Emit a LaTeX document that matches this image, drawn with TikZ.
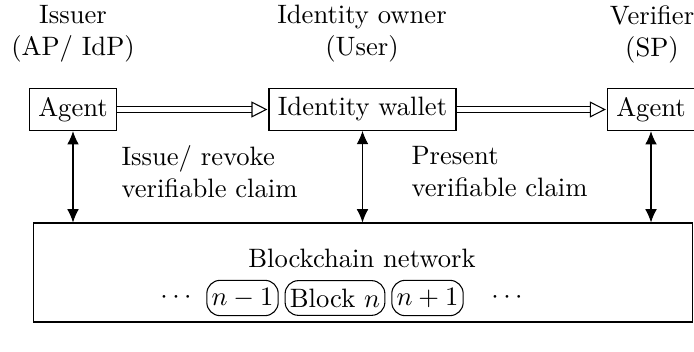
\documentclass[tikz,border=0pt]{standalone}
\usetikzlibrary{arrows.meta,positioning}
\begin{document}
\begin{tikzpicture}[x=0.3759pt,y=-0.3759pt,
  box/.style={draw, rectangle, inner sep=0.3333em},
  blk/.style={draw, rounded corners=5pt, inner xsep=1.8pt, inner ysep=3pt},
  hdr/.style={align=center, inner sep=0pt},
  lbl/.style={align=left, anchor=west, inner sep=0pt},
  dbl/.style={double, double distance=1.8pt, -{Triangle[open, length=6pt, width=6pt]}, shorten >=0.4pt},
  vline/.style={{Latex[length=5pt,width=4.4pt]}-{Latex[length=5pt,width=4.4pt]}}]
\useasboundingbox (0,0) rectangle (694,352);
% headers
\node[hdr] (h1) at (73,34) {Issuer\\(AP/ IdP)};
\node[hdr] (h2) at (362,34) {Identity owner\\(User)};
\node[hdr] (h3) at (652,34) {Verifier\\(SP)};
% top row
\node[box] (ag1) at (73,109.5) {Agent};
\node[box] (wal) at (362.5,109.5) {Identity wallet};
\node[box] (ag2) at (651,109.5) {Agent};
\draw[dbl] (ag1) -- (wal);
\draw[dbl] (wal) -- (ag2);
% blockchain box
\node[draw, minimum width=247.4pt, minimum height=37.2pt, inner sep=0pt] (bc) at (363,272.5) {};
\node (bcl) at (362,258) {Blockchain network};
\node[blk] (bn) at (335,298) {Block $n$};
\node[blk, left=2.2pt of bn] (bm) {$n-1$};
\node[blk, right=2.2pt of bn] (bp) {$n+1$};
\node (dl) at (176,298) {$\cdots$};
\node (dr) at (507,298) {$\cdots$};
% vertical arrows
\draw[vline] (ag1.south) -- (ag1.south |- bc.north);
\draw[vline] (wal.south) -- (wal.south |- bc.north);
\draw[vline] (ag2.south) -- (ag2.south |- bc.north);
% labels
\node[lbl] (l1) at (121,172) {Issue/ revoke\\verifiable claim};
\node[lbl] (l2) at (411,172) {Present\\verifiable claim};
\end{tikzpicture}
\end{document}
